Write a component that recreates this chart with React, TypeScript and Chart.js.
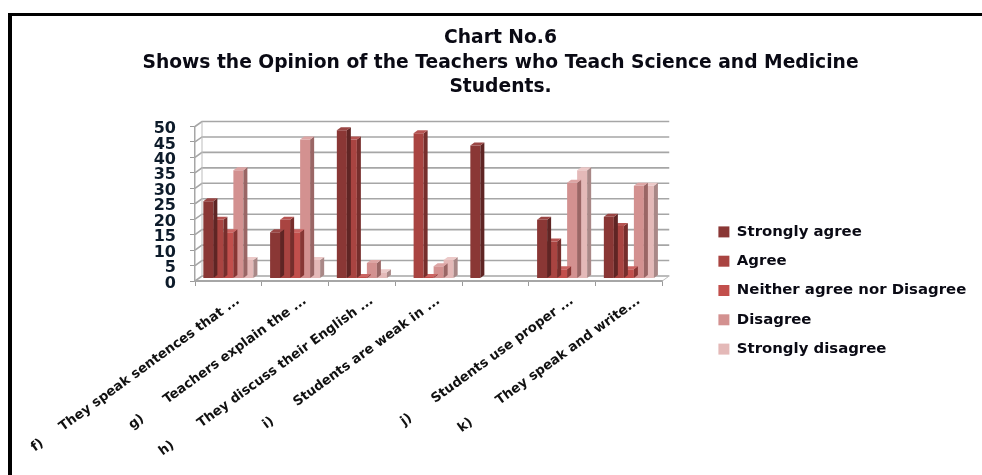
import React, { useEffect, useRef } from "react";
import { Chart, registerables } from "chart.js";

Chart.register(...registerables);

const FONT = "'DejaVu Sans', sans-serif";
const categories = [
  "f)\u00a0\u00a0\u00a0\u00a0\u00a0They speak sentences that ...",
  "g)\u00a0\u00a0\u00a0\u00a0\u00a0\u00a0Teachers explain the ...",
  "h)\u00a0\u00a0\u00a0\u00a0\u00a0\u00a0\u00a0They discuss their English ...",
  "i)\u00a0\u00a0\u00a0\u00a0\u00a0\u00a0Students are weak in ...",
  "",
  "j)\u00a0\u00a0\u00a0\u00a0\u00a0\u00a0Students use proper ...",
  "k)\u00a0\u00a0\u00a0\u00a0\u00a0\u00a0\u00a0They speak and write...",
];
const stronglyAgree = [25, 15, 48, 0, 43, 19, 20];
const agree = [19, 19, 45, 47, 0, 12, 17];
const neither = [15, 15, 0.5, 0.5, 0, 3, 3];
const disagree = [35, 45, 5, 4, 0, 31, 30];
const stronglyDisagree = [6, 6, 2, 6, 0, 35, 30];
const yTicks = [0, 5, 10, 15, 20, 25, 30, 35, 40, 45, 50];
const titleLines = [
  "Chart No.6",
  "Shows the Opinion of the Teachers who Teach Science and Medicine",
  "Students.",
];
const seriesNames = ["Strongly agree", "Agree", "Neither agree nor Disagree", "Disagree", "Strongly disagree"];
const seriesValues = [stronglyAgree, agree, neither, disagree, stronglyDisagree];
const frontColors = ["#8a3735", "#a94441", "#c24f4c", "#d39190", "#e4b9b8"];
const sideColors = ["#5f2524", "#762e2c", "#873634", "#9a6665", "#a98887"];
const topColors = ["#9a4644", "#b65452", "#cb6462", "#dda5a4", "#ecc9c8"];

const WALL_DX = 7;
const WALL_DY = 5;
const BAR_LIFT = 2.5;
const SIDE = 4;
const TOP = 3;

const threeD = {
  id: "threeD",
  beforeDatasetsDraw(chart: any) {
    const { ctx, chartArea: a, scales } = chart;
    const y = scales.y;
    ctx.save();
    ctx.strokeStyle = "#a6a6a6";
    ctx.lineWidth = 1.6;
    yTicks.forEach((v) => {
      const py = y.getPixelForValue(v);
      ctx.beginPath();
      ctx.moveTo(a.left, py);
      ctx.lineTo(a.left + WALL_DX, py - WALL_DY);
      ctx.lineTo(a.right + WALL_DX, py - WALL_DY);
      ctx.stroke();
    });
    ctx.lineWidth = 1;
    ctx.strokeStyle = "#bdbdbd";
    ctx.beginPath();
    ctx.moveTo(a.left + WALL_DX, a.top - WALL_DY);
    ctx.lineTo(a.left + WALL_DX, a.bottom - WALL_DY);
    ctx.moveTo(a.right, a.bottom);
    ctx.lineTo(a.right + WALL_DX, a.bottom - WALL_DY);
    ctx.stroke();
    ctx.restore();
  },
  beforeDatasetDraw(chart: any) {
    chart.ctx.save();
    chart.ctx.translate(0, -BAR_LIFT);
  },
  afterDatasetDraw(chart: any, args: any) {
    const { ctx } = chart;
    const meta = chart.getDatasetMeta(args.index);
    meta.data.forEach((bar: any, i: number) => {
      const v = seriesValues[args.index][i];
      if (!v) return;
      const { x, y, base, width } = bar.getProps(["x", "y", "base", "width"], true);
      const r = x + width / 2;
      const l = x - width / 2;
      ctx.fillStyle = sideColors[args.index];
      ctx.beginPath();
      ctx.moveTo(r, y);
      ctx.lineTo(r + SIDE, y - TOP);
      ctx.lineTo(r + SIDE, base - TOP);
      ctx.lineTo(r, base);
      ctx.closePath();
      ctx.fill();
      ctx.fillStyle = topColors[args.index];
      ctx.beginPath();
      ctx.moveTo(l, y);
      ctx.lineTo(l + SIDE, y - TOP);
      ctx.lineTo(r + SIDE, y - TOP);
      ctx.lineTo(r, y);
      ctx.closePath();
      ctx.fill();
    });
    ctx.restore();
  },
  beforeDraw(chart: any) {
    const lg = chart.legend;
    lg.left = 704;
    lg.right = 982;
    lg.top = 53;
    lg.bottom = 528;
    const tb = chart.titleBlock;
    tb.left = 0;
    tb.right = 1001;
  },
};

export default function App() {
  const ref = useRef<HTMLCanvasElement>(null);
  useEffect(() => {
    const chart = new Chart(ref.current as HTMLCanvasElement, {
      type: "bar",
      plugins: [threeD],
      data: {
        labels: categories,
        datasets: seriesNames.map((name, i) => ({
          label: name,
          data: seriesValues[i],
          backgroundColor: frontColors[i],
          borderWidth: 0,
          barPercentage: 1,
          categoryPercentage: 0.75,
        })),
      },
      options: {
        animation: false,
        responsive: false,
        layout: { padding: { left: 18, top: 26, right: 105, bottom: 0 } },
        plugins: {
          tooltip: { enabled: false },
          title: {
            display: true,
            text: titleLines,
            color: "#0a0a14",
            font: { family: FONT, size: 18.7, weight: "bold", lineHeight: 1.31 },
            padding: { top: 0, bottom: 27 },
          },
          legend: {
            position: "right",
            labels: {
              boxWidth: 11,
              boxHeight: 11,
              padding: 14.4,
              color: "#0a0a14",
              font: { family: FONT, size: 14.9, weight: "bold" },
            },
          },
        },
        scales: {
          x: {
            grid: { drawOnChartArea: false, color: "#9a9a9a", tickLength: 5, offset: true },
            border: { color: "#a6a6a6", width: 2 },
            afterFit(s: any) {
              s.height = 194;
              s.paddingLeft = 0;
              s.paddingRight = 0;
            },
            ticks: {
              autoSkip: false,
              minRotation: 36,
              maxRotation: 36,
              labelOffset: 10,
              padding: 7,
              color: "#111",
              font: { family: FONT, size: 13.2, weight: "bold" },
            },
          },
          y: {
            min: 0,
            max: 50,
            grid: { drawOnChartArea: false, color: "#9a9a9a", tickLength: 5 },
            border: { color: "#a6a6a6", width: 1.5 },
            afterFit(s: any) {
              s.width = 177;
              s.paddingTop = 0;
              s.paddingBottom = 0;
            },
            afterBuildTicks(s: any) {
              s.ticks = yTicks.map((value) => ({ value }));
            },
            ticks: {
              autoSkip: false,
              padding: 14,
              labelOffset: 2.5,
              color: "#0d1b2a",
              font: { family: FONT, size: 16, weight: "bold" },
            },
          },
        },
      },
    } as any);
    return () => chart.destroy();
  }, []);
  return (
    <div style={{ position: "fixed", inset: 0, background: "#fff", overflow: "hidden" }}>
      <canvas ref={ref} width={982} height={475} style={{ display: "block", filter: "blur(0.45px)" }} />
      <div style={{ position: "absolute", left: 8, top: 13, width: 974, height: 3, background: "#000" }} />
      <div style={{ position: "absolute", left: 8, top: 13, width: 4, height: 462, background: "#000" }} />
    </div>
  );
}
